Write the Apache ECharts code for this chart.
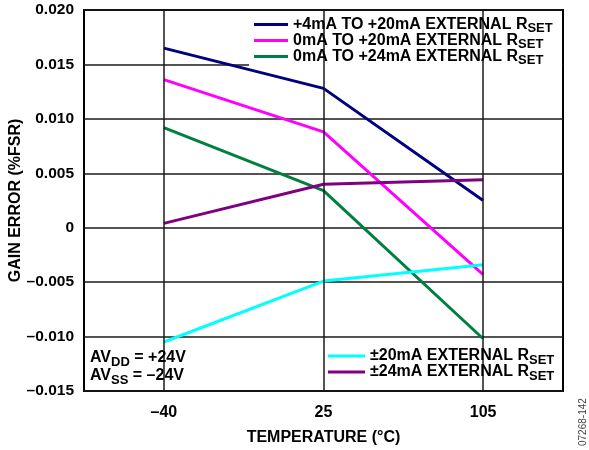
<!DOCTYPE html>
<html><head><meta charset="utf-8">
<script src="https://cdn.jsdelivr.net/npm/echarts@6/dist/echarts.min.js"></script>
<style>html,body{margin:0;padding:0;background:#fff}#c{width:589px;height:450px}</style>
</head><body><div id="c"></div>
<script>
const categories = ['\u201340', '25', '105'];
const nameA = '+4mA TO +20mA EXTERNAL R';
const nameB = '0mA TO +20mA EXTERNAL R';
const nameC = '0mA TO +24mA EXTERNAL R';
const nameD = '\u00b120mA EXTERNAL R';
const nameE = '\u00b124mA EXTERNAL R';
const dataA = [0.0165, 0.0128, 0.0025];
const dataB = [0.0136, 0.0088, -0.0043];
const dataC = [0.0092, 0.0034, -0.0102];
const dataD = [-0.0105, -0.0049, -0.0034];
const dataE = [0.0004, 0.0040, 0.0044];
const yMin = -0.015, yMax = 0.020, yStep = 0.005;

const FONT = '"Liberation Sans", Arial, sans-serif';
const colA = '#000080', colB = '#ff00ff', colC = '#008040', colD = '#00ffff', colE = '#800080';

const rich = {
  n: {fontFamily: FONT, fontWeight: 'bold', fontSize: 16, lineHeight: 16, color: '#000'},
  s: {fontFamily: FONT, fontWeight: 'bold', fontSize: 13, lineHeight: 8, padding: [8, 0, 0, 0], color: '#000'}
};

function mk(name, data, color) {
  return {
    name: name, type: 'line', data: data, symbol: 'none', z: 2,
    lineStyle: {color: color, width: 3}, itemStyle: {color: color},
    animation: false
  };
}

const chart = echarts.init(document.getElementById('c'), null, {renderer: 'canvas'});
const series = [
  mk(nameA, dataA, colA), mk(nameB, dataB, colB), mk(nameC, dataC, colC),
  mk(nameD, dataD, colD), mk(nameE, dataE, colE),
  {
    type: 'line', data: [], silent: true, animation: false,
    markLine: {
      silent: true, symbol: 'none', animation: false,
      label: {show: false},
      lineStyle: {color: '#1a1a1a', width: 1.5, type: 'solid'},
      data: categories.map(c => ({xAxis: c}))
    }
  }
];

const avText = (t1, sub, t2, top) => ({
  type: 'text', z: 10, silent: true, left: 90, top: top,
  style: {text: '{n|' + t1 + '}{s|' + sub + '}{n|' + t2 + '}', rich: rich}
});

chart.setOption({
  animation: false,
  backgroundColor: '#fff',
  grid: {left: 84, right: 26, top: 10, bottom: 59, show: true, borderColor: '#000', borderWidth: 2,
    backgroundColor: 'transparent', containLabel: false, outerBoundsMode: 'none'},
  xAxis: {
    type: 'category', data: categories, boundaryGap: true,
    axisLine: {show: false}, axisTick: {show: false}, splitLine: {show: false},
    axisLabel: {margin: 14, color: '#000', fontFamily: FONT, fontWeight: 'bold', fontSize: 16},
    name: 'TEMPERATURE (\u00b0C)', nameLocation: 'middle', nameGap: 39, nameMoveOverlap: false,
    nameTextStyle: {color: '#000', fontFamily: FONT, fontWeight: 'bold', fontSize: 16}
  },
  yAxis: {
    type: 'value', min: yMin, max: yMax, interval: yStep,
    axisLine: {show: false}, axisTick: {show: false},
    splitLine: {show: true, lineStyle: {color: '#1a1a1a', width: 1.5}},
    axisLabel: {
      margin: 10, color: '#000', fontFamily: FONT, fontWeight: 'bold', fontSize: 15.5,
      formatter: v => (Math.abs(v) < 1e-9 ? '0' : v.toFixed(3)).replace('-', '\u2013')
    },
    name: 'GAIN ERROR (%FSR)', nameLocation: 'middle', nameGap: 60, nameRotate: 90, nameMoveOverlap: false,
    nameTextStyle: {color: '#000', fontFamily: FONT, fontWeight: 'bold', fontSize: 16}
  },
  legend: [
    {
      data: [nameA, nameB, nameC], orient: 'vertical', left: 254, top: 14, padding: 0,
      itemWidth: 34, itemHeight: 3, itemGap: -5, icon: 'rect', z: 10,
      formatter: n => '{n|' + n + '}{s|SET}',
      textStyle: {rich: rich}
    },
    {
      data: [nameD, nameE], orient: 'vertical', left: 328, top: 345.5, padding: 0,
      itemWidth: 37, itemHeight: 3, itemGap: -5, icon: 'rect', z: 10,
      formatter: n => '{n|' + n + '}{s|SET}',
      textStyle: {rich: rich}
    }
  ],
  graphic: [
    {type: 'rect', z: 5, silent: true, shape: {x: 249, y: 11, width: 313, height: 57}, style: {fill: '#fff'}},
    {type: 'rect', z: 5, silent: true, shape: {x: 324.5, y: 339, width: 237.5, height: 51}, style: {fill: '#fff'}},
    {type: 'rect', z: 5, silent: true, shape: {x: 85.5, y: 344, width: 120, height: 46}, style: {fill: '#fff'}},
    avText('AV', 'DD', ' = +24V', 347.5),
    avText('AV', 'SS', ' = \u201324V', 365.5),
    {type: 'text', z: 10, silent: true, x: 588, y: 446, rotation: Math.PI / 2,
      style: {text: '07268-142', fontFamily: FONT, fontSize: 10, fill: '#444', align: 'left', verticalAlign: 'bottom'}}
  ],
  series: series
});
</script></body></html>
